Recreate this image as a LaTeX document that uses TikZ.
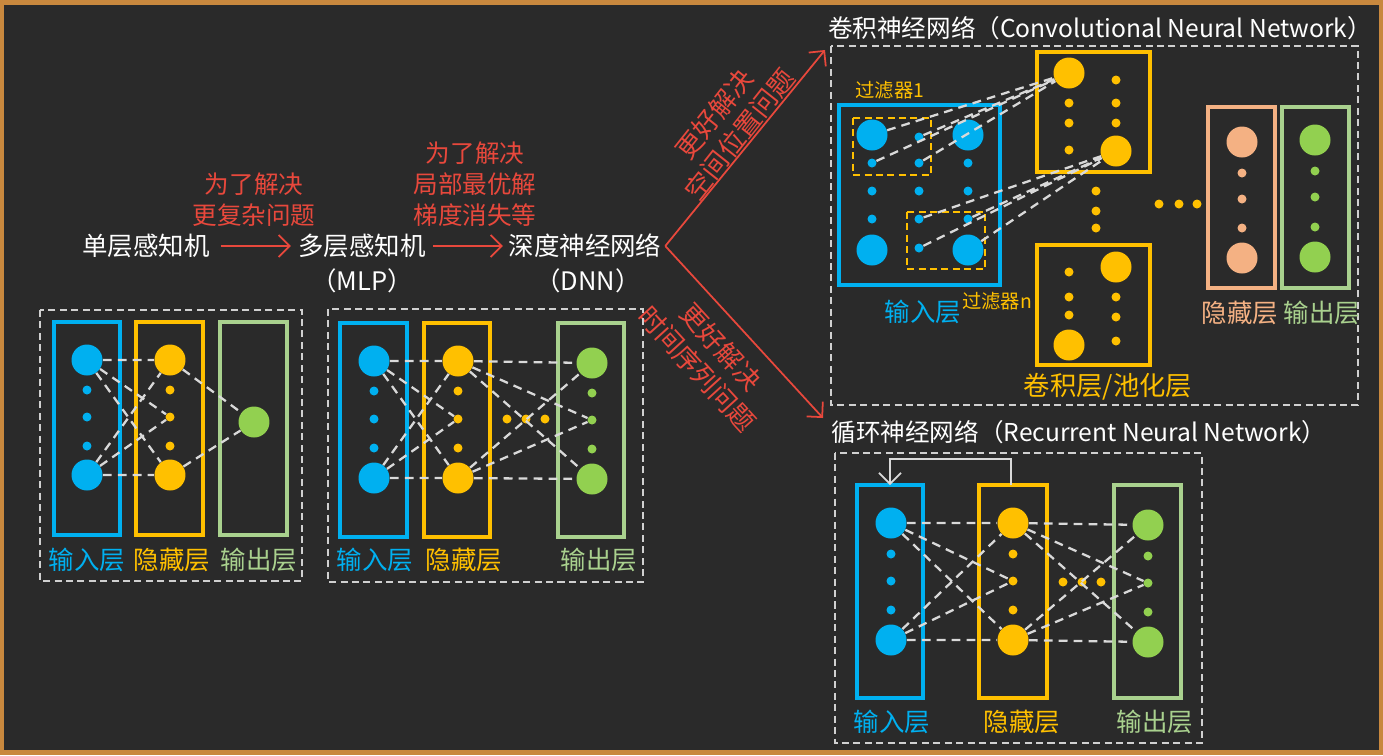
\documentclass[tikz,border=0pt]{standalone}
\usepackage{fontspec}
\setmainfont{Noto Sans CJK SC}
\usepackage{tikz}
\usetikzlibrary{arrows.meta}
\definecolor{board}{RGB}{42,42,42}
\definecolor{wood}{RGB}{200,136,62}
\definecolor{cblue}{RGB}{0,176,240}
\definecolor{cyellow}{RGB}{255,192,0}
\definecolor{cgreen}{RGB}{146,208,80}
\definecolor{cgreenbox}{RGB}{169,209,142}
\definecolor{csalmon}{RGB}{244,177,131}
\definecolor{cred}{RGB}{232,72,60}
\definecolor{linkgray}{RGB}{217,217,217}
\definecolor{panelgray}{RGB}{208,208,208}
\tikzset{
  txt/.style    ={text=white, inner sep=2pt, font=\fontsize{14.5}{17}\selectfont},
  title/.style  ={text=white, inner sep=2pt, font=\fontsize{14}{17}\selectfont},
  note/.style   ={text=cred, align=center, inner sep=1pt, font=\fontsize{14}{17.5}\selectfont},
  slant/.style  ={text=cred, align=center, inner sep=1pt, font=\fontsize{15}{18.5}\selectfont},
  lay/.style    ={text=#1, inner sep=1pt, font=\fontsize{14.5}{17}\selectfont},
  small/.style  ={text=#1, inner sep=1pt, font=\fontsize{11}{13}\selectfont},
  bigc/.style   ={circle, fill=#1, inner sep=0pt, minimum size=0.62cm},
  smallc/.style ={circle, fill=#1, inner sep=0pt, minimum size=0.18cm},
  box/.style    ={draw=#1, line width=2pt},
  panel/.style  ={draw=panelgray, line width=1.1pt, dash pattern=on 4pt off 2.5pt},
  filt/.style   ={draw=cyellow, line width=1.2pt, dash pattern=on 4pt off 2.5pt},
  link/.style   ={draw=linkgray, line width=1.3pt, dash pattern=on 5pt off 3.5pt},
  redarr/.style ={draw=cred, line width=1pt, -{Straight Barb[length=2.2mm]}},
  fb/.style     ={draw=white!85!black, line width=1pt, -{Straight Barb[length=2.2mm]}},
}

\begin{document}
\begin{tikzpicture}[x=0.02cm, y=-0.02cm]
  \useasboundingbox (0,0) rectangle (1383,755);
  \fill[board] (0,0) rectangle (1383,755);
  \draw[wood, line width=0.1cm] (2,2.5) rectangle (1381,752.5);

  % evolution line
  \node[txt] (slp)   at (146,246) {单层感知机};
  \node[txt] (mlp)   at (362,246) {多层感知机};
  \node[txt] (mlpab) at (362,281) {（MLP）};
  \node[txt] (dnn)   at (585,246) {深度神经网络};
  \node[txt] (dnnab) at (588,281) {（DNN）};
  \node[note] (why1) at (254,200) {为了解决\\更复杂问题};
  \node[note] (why2) at (475,184) {为了解决\\局部最优解\\梯度消失等};
  \draw[redarr, shorten <=4pt, shorten >=2pt] (slp) -- (mlp);
  \draw[redarr, shorten <=2pt, shorten >=1pt] (mlp) -- (dnn);

  \coordinate (tocnn) at (825,50);
  \coordinate (tornn) at (823,418);
  \draw[redarr] (dnn.east) -- (tocnn);
  \draw[redarr] (dnn.east) -- (tornn);
  \node[slant, rotate=51.6]  (why3) at (727,124) {更好解决\\空间位置问题};
  \node[slant, rotate=-47.6] (why4) at (709,358) {更好解决\\时间序列问题};

  % single layer perceptron
  \draw[panel] (40,310) rectangle (302,581);
  \draw[box=cblue]     (54,322) rectangle (120,535);
  \draw[box=cyellow]   (136,322) rectangle (203,535);
  \draw[box=cgreenbox] (220,322) rectangle (287,535);
  \node[bigc=cblue]     (inA1) at (87,360) {};
  \node[smallc=cblue]   (inA2) at (87,390) {};
  \node[smallc=cblue]   (inA3) at (87,417) {};
  \node[smallc=cblue]   (inA4) at (87,446) {};
  \node[bigc=cblue]     (inA5) at (87,475) {};
  \node[bigc=cyellow]   (hidA1) at (170,360) {};
  \node[smallc=cyellow] (hidA2) at (170,390) {};
  \node[smallc=cyellow] (hidA3) at (170,417) {};
  \node[smallc=cyellow] (hidA4) at (170,446) {};
  \node[bigc=cyellow]   (hidA5) at (170,475) {};
  \node[bigc=cgreen]    (outA) at (254,422) {};
  \draw[link] (inA1) -- (hidA1) (inA1) -- (hidA3) (inA1) -- (hidA5)
              (inA5) -- (hidA1) (inA5) -- (hidA3) (inA5) -- (hidA5)
              (hidA1) -- (outA) (hidA5) -- (outA);
  \node[lay=cblue]     (inAt)  at (87,560)  {输入层};
  \node[lay=cyellow]   (hidAt) at (172,560) {隐藏层};
  \node[lay=cgreenbox] (outAt) at (259,560) {输出层};

  % multi layer perceptron
  \draw[panel] (328,309) rectangle (643,582);
  \draw[box=cblue]     (340,323) rectangle (407,537);
  \draw[box=cyellow]   (424,323) rectangle (490,537);
  \draw[box=cgreenbox] (558,323) rectangle (624,537);
  \node[bigc=cblue]     (inB1) at (374,361) {};
  \node[smallc=cblue]   (inB2) at (374,391) {};
  \node[smallc=cblue]   (inB3) at (374,419) {};
  \node[smallc=cblue]   (inB4) at (374,448) {};
  \node[bigc=cblue]     (inB5) at (374,478) {};
  \node[bigc=cyellow]   (hidB1) at (458,361) {};
  \node[smallc=cyellow] (hidB2) at (458,391) {};
  \node[smallc=cyellow] (hidB3) at (458,419) {};
  \node[smallc=cyellow] (hidB4) at (458,448) {};
  \node[bigc=cyellow]   (hidB5) at (458,478) {};
  \node[smallc=cyellow] (midB1) at (507,419) {};
  \node[smallc=cyellow] (midB2) at (526,419) {};
  \node[smallc=cyellow] (midB3) at (545,419) {};
  \node[bigc=cgreen]    (outB1) at (592,363) {};
  \node[smallc=cgreen]  (outB2) at (592,393) {};
  \node[smallc=cgreen]  (outB3) at (592,420) {};
  \node[smallc=cgreen]  (outB4) at (592,449) {};
  \node[bigc=cgreen]    (outB5) at (592,479) {};
  \draw[link] (inB1) -- (hidB1) (inB1) -- (hidB3) (inB1) -- (hidB5)
              (inB5) -- (hidB1) (inB5) -- (hidB3) (inB5) -- (hidB5)
              (hidB1) -- (outB1) (hidB1) -- (outB3) (hidB1) -- (outB5)
              (hidB5) -- (outB1) (hidB5) -- (outB3) (hidB5) -- (outB5);
  \node[lay=cblue]     (inBt)  at (375,560) {输入层};
  \node[lay=cyellow]   (hidBt) at (464,560) {隐藏层};
  \node[lay=cgreenbox] (outBt) at (599,560) {输出层};

  % convolutional network
  \node[title] (cnnt) at (1100,28) {卷积神经网络（Convolutional Neural Network）};
  \draw[panel] (831,46) rectangle (1358,405);
  \draw[box=cblue] (839,105) rectangle (1000,285);
  \draw[filt] (853,118) rectangle (931,175);
  \draw[filt] (907,212) rectangle (985,269);
  \node[small=cyellow] (f1t) at (890,90)  {过滤器1};
  \node[small=cyellow] (fnt) at (997,301) {过滤器n};
  \node[bigc=cblue]   (g11) at (872,135) {};
  \node[smallc=cblue] (g12) at (919,137) {};
  \node[bigc=cblue]   (g13) at (968,135) {};
  \node[smallc=cblue] (g21) at (872,163) {};
  \node[smallc=cblue] (g22) at (919,163) {};
  \node[smallc=cblue] (g23) at (968,163) {};
  \node[smallc=cblue] (g31) at (872,191) {};
  \node[smallc=cblue] (g32) at (919,191) {};
  \node[smallc=cblue] (g33) at (968,191) {};
  \node[smallc=cblue] (g41) at (872,219) {};
  \node[smallc=cblue] (g42) at (919,219) {};
  \node[smallc=cblue] (g43) at (968,219) {};
  \node[bigc=cblue]   (g51) at (872,250) {};
  \node[smallc=cblue] (g52) at (919,248) {};
  \node[bigc=cblue]   (g53) at (968,250) {};
  \node[lay=cblue] (gint) at (923,312) {输入层};

  \draw[box=cyellow] (1037,52) rectangle (1150,172);
  \node[bigc=cyellow]   (c1a) at (1069,73) {};
  \node[smallc=cyellow] (c1b) at (1116,80) {};
  \node[smallc=cyellow] (c1c) at (1069,103) {};
  \node[smallc=cyellow] (c1d) at (1116,103) {};
  \node[smallc=cyellow] (c1e) at (1069,123) {};
  \node[smallc=cyellow] (c1f) at (1116,123) {};
  \node[smallc=cyellow] (c1g) at (1069,150) {};
  \node[bigc=cyellow]   (c1h) at (1116,151) {};
  \node[smallc=cyellow] (cv1) at (1096,191) {};
  \node[smallc=cyellow] (cv2) at (1096,211) {};
  \node[smallc=cyellow] (cv3) at (1096,228) {};
  \draw[box=cyellow] (1037,245) rectangle (1150,365);
  \node[smallc=cyellow] (c2a) at (1069,272) {};
  \node[bigc=cyellow]   (c2b) at (1116,267) {};
  \node[smallc=cyellow] (c2c) at (1069,297) {};
  \node[smallc=cyellow] (c2d) at (1116,297) {};
  \node[smallc=cyellow] (c2e) at (1069,315) {};
  \node[smallc=cyellow] (c2f) at (1116,317) {};
  \node[bigc=cyellow]   (c2g) at (1069,345) {};
  \node[smallc=cyellow] (c2h) at (1116,341) {};
  \node[lay=cyellow, font=\fontsize{15}{17}\selectfont] (convt) at (1108,387) {卷积层/池化层};
  \draw[link] (g11) -- (c1a) (g21) -- (c1a) (g12) -- (c1a) (g22) -- (c1a)
              (g42) -- (c1h) (g52) -- (c1h) (g43) -- (c1h) (g53) -- (c1h);

  \node[smallc=cyellow] (ch1) at (1159,204) {};
  \node[smallc=cyellow] (ch2) at (1179,204) {};
  \node[smallc=cyellow] (ch3) at (1197,204) {};
  \draw[box=csalmon]   (1208,107) rectangle (1275,288);
  \draw[box=cgreenbox] (1282,107) rectangle (1349,288);
  \node[bigc=csalmon]   (ch4) at (1242,142) {};
  \node[smallc=csalmon] (ch5) at (1242,173) {};
  \node[smallc=csalmon] (ch6) at (1242,199) {};
  \node[smallc=csalmon] (ch7) at (1242,228) {};
  \node[bigc=csalmon]   (ch8) at (1242,258) {};
  \node[bigc=cgreen]    (co1) at (1315,140) {};
  \node[smallc=cgreen]  (co2) at (1315,171) {};
  \node[smallc=cgreen]  (co3) at (1315,197) {};
  \node[smallc=cgreen]  (co4) at (1315,227) {};
  \node[bigc=cgreen]    (co5) at (1315,257) {};
  \node[lay=csalmon]   (chidt) at (1240,313) {隐藏层};
  \node[lay=cgreenbox] (coutt) at (1322,313) {输出层};

  % recurrent network
  \node[title] (rnnt) at (1079,432) {循环神经网络（Recurrent Neural Network）};
  \draw[panel] (835,453) rectangle (1202,743);
  \draw[box=cblue]     (857,485) rectangle (923,698);
  \draw[box=cyellow]   (979,485) rectangle (1047,698);
  \draw[box=cgreenbox] (1114,485) rectangle (1181,698);
  \node[bigc=cblue]     (inR1) at (891,523) {};
  \node[smallc=cblue]   (inR2) at (891,554) {};
  \node[smallc=cblue]   (inR3) at (891,581) {};
  \node[smallc=cblue]   (inR4) at (891,610) {};
  \node[bigc=cblue]     (inR5) at (891,640) {};
  \node[bigc=cyellow]   (hidR1) at (1013,523) {};
  \node[smallc=cyellow] (hidR2) at (1013,554) {};
  \node[smallc=cyellow] (hidR3) at (1013,581) {};
  \node[smallc=cyellow] (hidR4) at (1013,610) {};
  \node[bigc=cyellow]   (hidR5) at (1013,640) {};
  \node[smallc=cyellow] (midR1) at (1063,582) {};
  \node[smallc=cyellow] (midR2) at (1082,582) {};
  \node[smallc=cyellow] (midR3) at (1101,582) {};
  \node[bigc=cgreen]    (outR1) at (1148,525) {};
  \node[smallc=cgreen]  (outR2) at (1148,556) {};
  \node[smallc=cgreen]  (outR3) at (1148,583) {};
  \node[smallc=cgreen]  (outR4) at (1148,612) {};
  \node[bigc=cgreen]    (outR5) at (1148,642) {};
  \draw[link] (inR1) -- (hidR1) (inR1) -- (hidR3) (inR1) -- (hidR5)
              (inR5) -- (hidR1) (inR5) -- (hidR3) (inR5) -- (hidR5)
              (hidR1) -- (outR1) (hidR1) -- (outR3) (hidR1) -- (outR5)
              (hidR5) -- (outR1) (hidR5) -- (outR3) (hidR5) -- (outR5);
  \coordinate (fbs) at (1011,485);
  \coordinate (fbe) at (890,485);
  \draw[fb] (fbs) -- ++(0,-26) -| (fbe);
  \node[lay=cblue]     (inRt)  at (892,722)  {输入层};
  \node[lay=cyellow]   (hidRt) at (1022,722) {隐藏层};
  \node[lay=cgreenbox] (outRt) at (1155,722) {输出层};
\end{tikzpicture}
\end{document}
